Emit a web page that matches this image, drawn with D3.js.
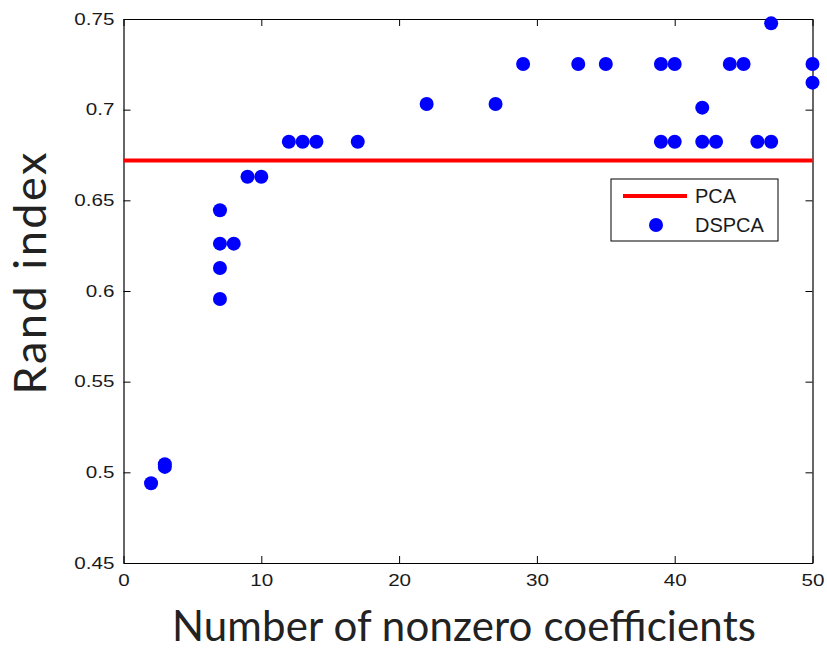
<!DOCTYPE html>
<html>
<head>
<meta charset="utf-8">
<script src="https://cdn.jsdelivr.net/npm/d3@7"></script>
<style>
html,body{margin:0;padding:0;background:#fff;}
</style>
</head>
<body>
<svg id="chart" width="827" height="650"></svg>
<script>
// ---- data ----
const dspcaX = [2, 3, 3, 7, 7, 7, 7, 8, 9, 10, 12, 13, 14, 17, 22, 27, 29, 33, 35, 39, 39, 40, 40, 42, 42, 43, 44, 45, 46, 47, 47, 50, 50];
const dspcaY = [0.494, 0.5045, 0.503, 0.5956, 0.6127, 0.6261, 0.6445, 0.6261, 0.663, 0.663, 0.6823, 0.6823, 0.6823, 0.6823, 0.7031, 0.7031, 0.7252, 0.7252, 0.7252, 0.7252, 0.6823, 0.7252, 0.6823, 0.7011, 0.6823, 0.6823, 0.7252, 0.7252, 0.6823, 0.6823, 0.7476, 0.7252, 0.7149];
const pcaValue = 0.672;
const xTicks = [0, 10, 20, 30, 40, 50];
const yTicks = [0.45, 0.5, 0.55, 0.6, 0.65, 0.7, 0.75];
const yTickLabels = ["0.45", "0.5", "0.55", "0.6", "0.65", "0.7", "0.75"];
const xTitle = "Number of nonzero coefficients";
const yTitle = "Rand index";
const legendLabels = ["PCA", "DSPCA"];

// ---- layout ----
const svg = d3.select("#chart");
const L = 123.5, R = 812.5, T = 19, B = 563;
const x = d3.scaleLinear().domain([0, 50]).range([L, R]);
const y = d3.scaleLinear().domain([0.45, 0.75]).range([B, T]);
const tickFont = "'Liberation Sans', Arial, sans-serif";
const textColor = "#1a1a1a";

// axes (box with inward ticks)
const tickLen = 7;
const gBottom = svg.append("g").attr("transform", `translate(0,${B})`)
  .call(d3.axisBottom(x).tickValues(xTicks).tickSizeInner(-tickLen).tickSizeOuter(0).tickPadding(11));
const gTop = svg.append("g").attr("transform", `translate(0,${T})`)
  .call(d3.axisTop(x).tickValues(xTicks).tickSizeInner(-tickLen).tickSizeOuter(0).tickFormat(""));
const gLeft = svg.append("g").attr("transform", `translate(${L},0)`)
  .call(d3.axisLeft(y).tickValues(yTicks).tickSizeInner(-tickLen).tickSizeOuter(0).tickPadding(9)
    .tickFormat((d, i) => yTickLabels[i]));
const gRight = svg.append("g").attr("transform", `translate(${R},0)`)
  .call(d3.axisRight(y).tickValues(yTicks).tickSizeInner(-tickLen).tickSizeOuter(0).tickFormat(""));

[gBottom, gTop, gLeft, gRight].forEach(g => {
  g.select(".domain").attr("stroke", "#000").attr("stroke-width", 1.2);
  g.selectAll(".tick line").attr("stroke", "#000").attr("stroke-width", 1);
  g.selectAll(".tick text").attr("font-family", tickFont).attr("font-size", 16.5).attr("fill", textColor);
});
// stretch tick labels horizontally like the reference
svg.selectAll(".tick text").each(function() {
  const w = this.getComputedTextLength();
  if (w > 0) d3.select(this).attr("textLength", w * 1.25).attr("lengthAdjust", "spacingAndGlyphs");
});
gBottom.selectAll(".tick text").attr("dy", "0.71em");

// PCA line
svg.append("line")
  .attr("x1", x(0)).attr("x2", x(50))
  .attr("y1", y(pcaValue)).attr("y2", y(pcaValue))
  .attr("stroke", "#ff0000").attr("stroke-width", 4);

// DSPCA points
svg.append("g").selectAll("circle")
  .data(dspcaX.map((d, i) => [d, dspcaY[i]]))
  .join("circle")
  .attr("cx", d => x(d[0]))
  .attr("cy", d => y(d[1]))
  .attr("r", 7)
  .attr("fill", "#0000ff");

// legend
const lg = svg.append("g").attr("transform", "translate(611,179)");
lg.append("rect").attr("width", 167).attr("height", 62)
  .attr("fill", "#fff").attr("stroke", "#000").attr("stroke-width", 1);
lg.append("line").attr("x1", 12).attr("x2", 76).attr("y1", 17).attr("y2", 17)
  .attr("stroke", "#ff0000").attr("stroke-width", 4);
lg.append("circle").attr("cx", 45).attr("cy", 46).attr("r", 7).attr("fill", "#0000ff");
lg.selectAll("text.lab").data(legendLabels).join("text")
  .attr("class", "lab")
  .attr("x", 84).attr("y", (d, i) => 17 + i * 29)
  .attr("dy", "0.36em")
  .attr("font-family", tickFont).attr("font-size", 20).attr("fill", textColor)
  .text(d => d);

// axis titles
svg.append("text")
  .attr("x", 464).attr("y", 641)
  .attr("text-anchor", "middle")
  .attr("font-family", "Lato, 'Open Sans', sans-serif")
  .attr("font-size", 42).attr("fill", "#222")
  .attr("textLength", 584).attr("lengthAdjust", "spacing")
  .text(xTitle);
svg.append("text")
  .attr("transform", "translate(46,273.5) rotate(-90)")
  .attr("text-anchor", "middle")
  .attr("font-family", "Lato, 'Open Sans', sans-serif")
  .attr("font-size", 45).attr("fill", "#222")
  .attr("textLength", 242).attr("lengthAdjust", "spacing")
  .text(yTitle);
</script>
</body>
</html>
